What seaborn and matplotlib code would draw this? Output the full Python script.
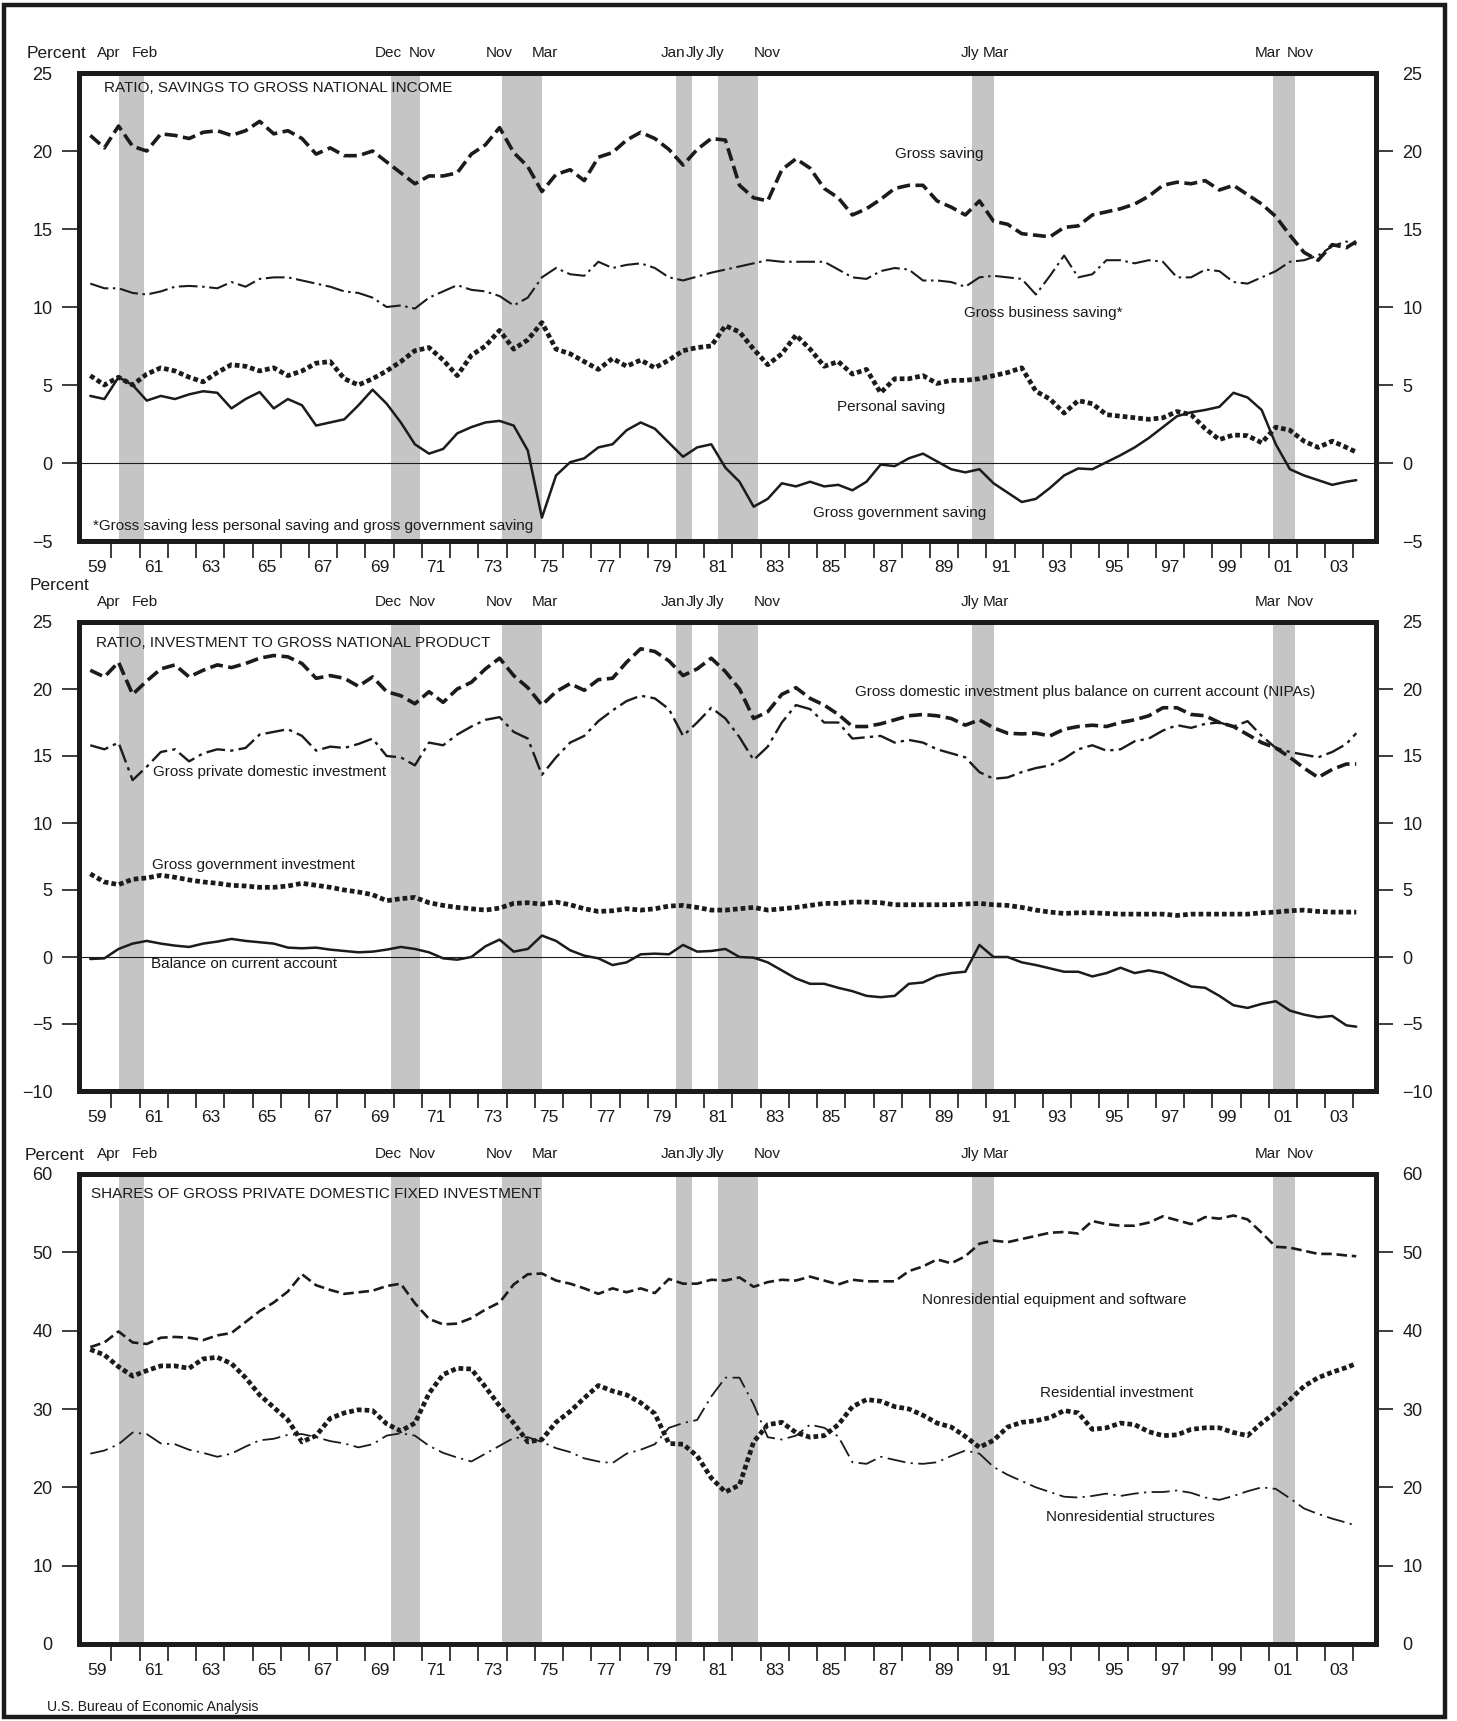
import numpy as np
import matplotlib
matplotlib.use("Agg")
import matplotlib.pyplot as plt
import matplotlib.transforms as mtransforms
from matplotlib.patches import Rectangle
import seaborn as sns

years = np.arange(1959, 2004)
t = list(np.ravel([[y + 0.25, y + 0.75] for y in years])) + [2004.1]

# Panel 1: ratio, savings to gross national income (percent)
gross_saving = [
    21.0, 20.2, 21.6, 20.3, 20.0, 21.1, 21.0, 20.8, 21.2, 21.3,
    21.0, 21.3, 21.9, 21.1, 21.3, 20.8, 19.8, 20.2, 19.7, 19.7,
    20.0, 19.3, 18.6, 17.9, 18.4, 18.4, 18.6, 19.8, 20.4, 21.5,
    19.9, 19.0, 17.4, 18.5, 18.8, 18.1, 19.6, 19.9, 20.7, 21.2,
    20.8, 20.1, 19.1, 20.1, 20.8, 20.7, 17.8, 17.0, 16.8, 18.8,
    19.5, 18.9, 17.6, 17.0, 15.9, 16.3, 16.9, 17.6, 17.8, 17.8,
    16.8, 16.4, 15.9, 16.8, 15.5, 15.3, 14.7, 14.6, 14.5, 15.1,
    15.2, 15.9, 16.1, 16.3, 16.6, 17.1, 17.8, 18.0, 17.9, 18.1,
    17.5, 17.8, 17.2, 16.6, 15.8, 14.6, 13.5, 13.0, 14.0, 13.8,
    14.2]
gross_business_saving = [
    11.5, 11.2, 11.2, 10.9, 10.8, 11.0, 11.3, 11.35, 11.3, 11.2,
    11.6, 11.3, 11.8, 11.9, 11.9, 11.7, 11.5, 11.3, 11.0, 10.9,
    10.6, 10.0, 10.1, 9.9, 10.6, 11.0, 11.4, 11.1, 11.0, 10.7,
    10.1, 10.6, 11.9, 12.5, 12.1, 12.0, 12.9, 12.5, 12.7, 12.8,
    12.5, 11.9, 11.7, 11.95, 12.2, 12.4, 12.6, 12.8, 13.0, 12.9,
    12.9, 12.9, 12.9, 12.4, 11.9, 11.8, 12.3, 12.5, 12.4, 11.7,
    11.7, 11.6, 11.3, 11.9, 12.0, 11.9, 11.8, 10.8, 12.0, 13.3,
    11.9, 12.1, 13.0, 13.0, 12.8, 13.0, 12.9, 11.9, 11.9, 12.4,
    12.3, 11.6, 11.5, 11.9, 12.3, 12.9, 13.0, 13.3, 13.9, 14.2,
    14.0]
personal_saving = [
    5.6, 5.0, 5.5, 5.0, 5.7, 6.1, 5.9, 5.5, 5.2, 5.8,
    6.3, 6.2, 5.9, 6.1, 5.6, 5.9, 6.4, 6.5, 5.4, 5.0,
    5.4, 5.9, 6.5, 7.2, 7.4, 6.6, 5.6, 6.9, 7.5, 8.5,
    7.3, 7.9, 9.0, 7.3, 7.0, 6.5, 6.0, 6.7, 6.2, 6.6,
    6.1, 6.6, 7.2, 7.4, 7.5, 8.8, 8.4, 7.3, 6.3, 7.0,
    8.2, 7.3, 6.2, 6.5, 5.7, 6.0, 4.5, 5.4, 5.4, 5.6,
    5.1, 5.3, 5.3, 5.4, 5.6, 5.8, 6.1, 4.6, 4.1, 3.2,
    4.0, 3.8, 3.1, 3.0, 2.9, 2.8, 2.9, 3.3, 3.1, 2.2,
    1.5, 1.8, 1.75, 1.3, 2.3, 2.1, 1.4, 1.0, 1.4, 1.0,
    0.7]
gross_government_saving = [
    4.3, 4.1, 5.5, 5.0, 4.0, 4.3, 4.1, 4.4, 4.6, 4.5,
    3.5, 4.1, 4.55, 3.5, 4.1, 3.7, 2.4, 2.6, 2.8, 3.7,
    4.7, 3.8, 2.6, 1.2, 0.6, 0.9, 1.9, 2.3, 2.6, 2.7,
    2.4, 0.8, -3.5, -0.8, 0.05, 0.3, 1.0, 1.2, 2.1, 2.6,
    2.2, 1.3, 0.4, 1.0, 1.2, -0.3, -1.2, -2.8, -2.3, -1.3,
    -1.5, -1.2, -1.5, -1.4, -1.75, -1.2, -0.1, -0.2, 0.3, 0.6,
    0.1, -0.4, -0.6, -0.4, -1.3, -1.9, -2.5, -2.3, -1.6, -0.8,
    -0.35, -0.4, 0.05, 0.5, 1.0, 1.6, 2.3, 3.0, 3.25, 3.4,
    3.6, 4.5, 4.2, 3.4, 1.2, -0.4, -0.8, -1.1, -1.4, -1.2,
    -1.1]

# Panel 2: ratio, investment to gross national product (percent)
gdi_plus_bca = [
    21.4, 20.9, 22.0, 19.6, 20.6, 21.5, 21.8, 20.9, 21.4, 21.8,
    21.6, 21.9, 22.3, 22.5, 22.4, 21.9, 20.8, 21.0, 20.8, 20.2,
    20.9, 19.8, 19.5, 18.9, 19.8, 19.0, 20.0, 20.5, 21.5, 22.3,
    21.0, 20.1, 18.8, 19.8, 20.4, 19.9, 20.7, 20.8, 22.0, 23.0,
    22.8, 22.1, 21.0, 21.5, 22.3, 21.3, 20.0, 17.8, 18.3, 19.6,
    20.1, 19.3, 18.8, 18.1, 17.2, 17.2, 17.4, 17.7, 18.0, 18.1,
    18.0, 17.8, 17.3, 17.7, 17.1, 16.7, 16.65, 16.7, 16.5, 17.0,
    17.2, 17.3, 17.2, 17.5, 17.7, 18.0, 18.6, 18.6, 18.1, 18.0,
    17.5, 17.2, 16.6, 16.0, 15.6, 14.9, 14.1, 13.4, 14.0, 14.4,
    14.4]
gross_private_domestic_inv = [
    15.8, 15.5, 16.0, 13.2, 14.2, 15.3, 15.5, 14.6, 15.2, 15.5,
    15.4, 15.6, 16.6, 16.8, 17.0, 16.5, 15.4, 15.7, 15.6, 15.9,
    16.3, 15.0, 14.9, 14.3, 16.0, 15.8, 16.6, 17.2, 17.7, 17.9,
    16.8, 16.3, 13.6, 14.9, 16.0, 16.5, 17.6, 18.4, 19.1, 19.5,
    19.3, 18.5, 16.5, 17.5, 18.6, 17.8, 16.4, 14.7, 15.7, 17.5,
    18.8, 18.5, 17.5, 17.5, 16.3, 16.4, 16.5, 16.0, 16.2, 16.0,
    15.5, 15.2, 14.9, 13.8, 13.3, 13.4, 13.8, 14.1, 14.3, 14.8,
    15.5, 15.8, 15.4, 15.5, 16.1, 16.3, 16.9, 17.3, 17.1, 17.4,
    17.5, 17.2, 17.6, 16.5, 15.6, 15.3, 15.1, 14.9, 15.3, 15.9,
    16.7]
gross_government_inv = [
    6.2, 5.6, 5.4, 5.8, 5.9, 6.1, 5.95, 5.75, 5.6, 5.5,
    5.35, 5.3, 5.2, 5.2, 5.3, 5.5, 5.35, 5.2, 5.0, 4.85,
    4.65, 4.2, 4.35, 4.45, 4.05, 3.85, 3.7, 3.6, 3.5, 3.65,
    4.0, 4.05, 3.95, 4.1, 3.9, 3.6, 3.4, 3.45, 3.6, 3.5,
    3.6, 3.8, 3.85, 3.7, 3.5, 3.5, 3.6, 3.7, 3.5, 3.6,
    3.7, 3.85, 4.0, 4.0, 4.1, 4.1, 4.05, 3.9, 3.9, 3.9,
    3.9, 3.9, 3.95, 4.0, 3.9, 3.85, 3.7, 3.5, 3.35, 3.25,
    3.3, 3.3, 3.25, 3.2, 3.2, 3.2, 3.2, 3.1, 3.2, 3.2,
    3.2, 3.2, 3.2, 3.3, 3.35, 3.45, 3.5, 3.4, 3.35, 3.35,
    3.35]
balance_current_account = [
    -0.15, -0.1, 0.6, 1.0, 1.2, 1.0, 0.85, 0.75, 1.0, 1.15,
    1.35, 1.2, 1.1, 1.0, 0.7, 0.65, 0.7, 0.55, 0.45, 0.35,
    0.4, 0.55, 0.75, 0.6, 0.35, -0.1, -0.2, 0.0, 0.8, 1.3,
    0.4, 0.6, 1.6, 1.2, 0.5, 0.1, -0.1, -0.6, -0.4, 0.2,
    0.25, 0.2, 0.9, 0.4, 0.45, 0.6, 0.0, -0.05, -0.4, -1.0,
    -1.6, -2.0, -2.0, -2.3, -2.55, -2.9, -3.0, -2.9, -2.0, -1.9,
    -1.4, -1.2, -1.1, 0.9, 0.0, 0.0, -0.4, -0.6, -0.85, -1.1,
    -1.1, -1.45, -1.2, -0.8, -1.2, -1.0, -1.2, -1.7, -2.2, -2.3,
    -2.9, -3.6, -3.8, -3.5, -3.3, -4.0, -4.3, -4.5, -4.4, -5.1,
    -5.2]

# Panel 3: shares of gross private domestic fixed investment (percent)
nonres_equipment = [
    37.9, 38.5, 39.9, 38.5, 38.3, 39.1, 39.2, 39.1, 38.8, 39.4,
    39.7, 41.1, 42.5, 43.6, 45.0, 47.2, 45.8, 45.2, 44.7, 44.9,
    45.1, 45.7, 46.0, 43.5, 41.5, 40.8, 40.9, 41.6, 42.7, 43.6,
    45.9, 47.2, 47.3, 46.4, 46.0, 45.4, 44.7, 45.4, 44.9, 45.4,
    44.8, 46.6, 46.0, 46.0, 46.5, 46.4, 46.8, 45.6, 46.2, 46.5,
    46.4, 46.9, 46.4, 45.9, 46.5, 46.3, 46.3, 46.3, 47.6, 48.2,
    49.1, 48.6, 49.5, 51.1, 51.5, 51.3, 51.7, 52.1, 52.5, 52.6,
    52.4, 54.0, 53.6, 53.4, 53.4, 53.8, 54.6, 54.1, 53.6, 54.5,
    54.3, 54.7, 54.2, 52.5, 50.7, 50.6, 50.2, 49.8, 49.8, 49.6,
    49.5]
residential_inv = [
    37.6, 36.9, 35.4, 34.2, 34.9, 35.5, 35.5, 35.2, 36.4, 36.6,
    35.8, 34.0, 31.8, 30.2, 28.6, 25.8, 26.6, 28.8, 29.5, 29.9,
    29.8, 28.1, 27.2, 28.2, 32.0, 34.4, 35.2, 35.1, 32.8, 30.4,
    28.2, 25.8, 26.1, 28.3, 29.7, 31.4, 33.0, 32.3, 31.8, 30.8,
    29.4, 25.6, 25.5, 24.0, 21.2, 19.4, 20.3, 25.8, 28.0, 28.3,
    27.0, 26.4, 26.6, 28.0, 30.3, 31.2, 31.0, 30.3, 30.0, 29.2,
    28.2, 27.7, 26.5, 25.1, 26.0, 27.7, 28.3, 28.5, 28.9, 29.8,
    29.5, 27.4, 27.6, 28.2, 28.0, 27.1, 26.6, 26.7, 27.4, 27.6,
    27.6, 27.0, 26.6, 28.2, 29.6, 31.2, 32.9, 34.0, 34.7, 35.3,
    35.8]
nonres_structures = [
    24.3, 24.7, 25.5, 27.0, 26.8, 25.6, 25.5, 24.8, 24.4, 23.9,
    24.3, 25.2, 26.0, 26.2, 26.7, 26.8, 26.4, 25.9, 25.6, 25.1,
    25.5, 26.6, 26.9, 26.6, 25.3, 24.4, 23.8, 23.3, 24.3, 25.3,
    26.3, 26.4, 25.8, 25.0, 24.5, 23.7, 23.3, 23.1, 24.3, 24.8,
    25.5, 27.6, 28.2, 28.6, 31.6, 34.0, 34.0, 30.6, 26.4, 26.1,
    26.6, 28.0, 27.6, 26.5, 23.2, 23.0, 23.9, 23.5, 23.1, 23.0,
    23.2, 24.0, 24.7, 24.3, 22.6, 21.6, 20.8, 20.0, 19.4, 18.8,
    18.7, 18.9, 19.2, 18.9, 19.2, 19.4, 19.4, 19.6, 19.3, 18.7,
    18.4, 18.9, 19.5, 20.0, 19.8, 18.6, 17.3, 16.6, 16.0, 15.5,
    15.1]

# Recessions (year, month) and their month labels
rec_start = [(1960, 4), (1969, 12), (1973, 11), (1980, 1), (1981, 7), (1990, 7), (2001, 3)]
rec_end = [(1961, 2), (1970, 11), (1975, 3), (1980, 7), (1982, 11), (1991, 3), (2001, 11)]
rec_start_lbl = ["Apr", "Dec", "Nov", "Jan", "Jly", "Jly", "Mar"]
rec_end_lbl = ["Feb", "Nov", "Mar", "Jly", "Nov", "Mar", "Nov"]

year_labels = ["%02d" % (y % 100) for y in range(1959, 2004, 2)]

# ---------------- style ----------------
sns.set_theme(style="white")
FONT = ["Liberation Sans", "DejaVu Sans"]
plt.rcParams["font.family"] = FONT
plt.rcParams["axes.unicode_minus"] = True

INK = "#1b1b1b"
SHADE = "#c5c5c5"

W, H = 1457, 1721
fig = plt.figure(figsize=(W / 100, H / 100), dpi=100)
fig.patch.set_facecolor("white")

AX_L, AX_R = 79, 1376
XMIN, XMAX = 1958.85, 2004.8
# how far (in years) each month label sits outside its band edge
START_OFF = [0.35, 0.1, 0.1, 0.1, 0.1, 0.1, 0.2]
END_OFF = [0.0, 0.1, 0.1, 0.1, 0.3, 0.1, 0.2]


def fxy(x, y):
    return x / W, 1 - y / H


def make_axes(top, bottom, ylim, yticks):
    ax = fig.add_axes([AX_L / W, 1 - bottom / H, (AX_R - AX_L) / W, (bottom - top) / H])
    ax.set_facecolor("white")
    ax.set_xlim(XMIN, XMAX)
    ax.set_ylim(*ylim)
    for sp in ax.spines.values():
        sp.set_linewidth(3.6)
        sp.set_color(INK)
        sp.set_visible(True)
    # x ticks at year boundaries, labels at mid-year of odd years
    ax.set_xticks(np.arange(1960, 2005))
    ax.set_xticklabels([])
    ax.set_xticks(np.arange(1959.5, 2004, 2), minor=True)
    ax.set_xticklabels(year_labels, minor=True, fontsize=12.5, color=INK)
    ax.tick_params(axis="x", which="major", direction="out", length=12, width=1.2,
                   color=INK, bottom=True, top=False)
    ax.tick_params(axis="x", which="minor", length=0, pad=14, bottom=True, top=False)
    ax.set_yticks(yticks)
    ax.set_yticklabels([str(v).replace("-", "\u2212") for v in yticks],
                       fontsize=13, color=INK)
    ax.tick_params(axis="y", direction="out", length=12, width=1.2, color=INK,
                   left=True, right=True, labelleft=True, labelright=True, pad=7)
    ticks = ax.yaxis.get_major_ticks()
    for i in (0, -1):
        ticks[i].tick1line.set_visible(False)
        ticks[i].tick2line.set_visible(False)
    ax.grid(False)
    # recession shading
    for (ys, ms), (ye, me) in zip(rec_start, rec_end):
        ax.axvspan(ys + (ms - 1) / 12, ye + me / 12, color=SHADE, lw=0, zorder=0)
    # month labels above the panel, centred just outside each band edge
    tr = mtransforms.blended_transform_factory(ax.transData, fig.transFigure)
    ylab = 1 - (top - 20) / H
    for (ys, ms), (ye, me), a, b, so, eo in zip(rec_start, rec_end, rec_start_lbl,
                                                 rec_end_lbl, START_OFF, END_OFF):
        ax.text(ys + (ms - 1) / 12 - so, ylab, a, transform=tr, ha="center", va="center",
                fontsize=11, color=INK)
        ax.text(ye + me / 12 + eo, ylab, b, transform=tr, ha="center", va="center",
                fontsize=11, color=INK)
    return ax


def draw(ax, y, lw, ls):
    sns.lineplot(x=t, y=y, ax=ax, color=INK, linewidth=lw, linestyle=ls,
                 errorbar=None, legend=False, zorder=3)


HEAVY_DASH = (2.6, (0, (3.6, 1.5)))
DASHDOT = (1.5, (0, (9, 2.2, 1.2, 2.2)))
HEAVY_DOT = (3.4, (0, (1.0, 0.65)))
SOLID = (1.8, "-")
MED_DASH = (1.9, (0, (4, 1.8)))
THIN_DASHDOT = (1.3, (0, (10, 3, 1.2, 3)))
LONG_DASHDOT = (1.7, (0, (8, 2.2, 1.4, 2.2)))


def ftext(x, y, s, size=11, ha="center"):
    fig.text(*fxy(x, y), s, ha=ha, va="center", fontsize=size, color=INK)


# ---------------- panel 1 ----------------
ax1 = make_axes(73, 541, (-5, 25), [-5, 0, 5, 10, 15, 20, 25])
ax1.axhline(0, color=INK, lw=0.8, zorder=1)
draw(ax1, gross_saving, *HEAVY_DASH)
draw(ax1, gross_business_saving, *DASHDOT)
draw(ax1, personal_saving, *HEAVY_DOT)
draw(ax1, gross_government_saving, *SOLID)
ax1.set_xlabel(""); ax1.set_ylabel("")
ftext(27, 53, "Percent", size=12.5, ha="left")
ftext(104, 88, "RATIO, SAVINGS TO GROSS NATIONAL INCOME", size=11, ha="left")
ftext(939, 154, "Gross saving")
ftext(1043, 313, "Gross business saving*")
ftext(891, 407, "Personal saving")
ftext(900, 513, "Gross government saving")
ftext(93, 526, "*Gross saving less personal saving and gross government saving", ha="left")

# ---------------- panel 2 ----------------
ax2 = make_axes(622, 1091, (-10, 25), [-10, -5, 0, 5, 10, 15, 20, 25])
ax2.axhline(0, color=INK, lw=0.8, zorder=1)
draw(ax2, gdi_plus_bca, *HEAVY_DASH)
draw(ax2, gross_private_domestic_inv, *LONG_DASHDOT)
draw(ax2, gross_government_inv, *HEAVY_DOT)
draw(ax2, balance_current_account, *SOLID)
ax2.set_xlabel(""); ax2.set_ylabel("")
ftext(30, 585, "Percent", size=12.5, ha="left")
ftext(96, 643, "RATIO, INVESTMENT TO GROSS NATIONAL PRODUCT", size=11, ha="left")
ftext(1085, 692, "Gross domestic investment plus balance on current account (NIPAs)")
ftext(270, 772, "Gross private domestic investment")
ftext(253, 865, "Gross government investment")
ftext(244, 964, "Balance on current account")

# ---------------- panel 3 ----------------
ax3 = make_axes(1174, 1644, (0, 60), [0, 10, 20, 30, 40, 50, 60])
draw(ax3, nonres_equipment, *MED_DASH)
draw(ax3, residential_inv, *HEAVY_DOT)
draw(ax3, nonres_structures, *THIN_DASHDOT)
ax3.set_xlabel(""); ax3.set_ylabel("")
ftext(25, 1156, "Percent", size=12.5, ha="left")
ftext(91, 1194, "SHARES OF GROSS PRIVATE DOMESTIC FIXED INVESTMENT", size=11, ha="left")
ftext(1054, 1300, "Nonresidential equipment and software")
ftext(1117, 1393, "Residential investment")
ftext(1130, 1517, "Nonresidential structures")
ftext(47, 1707, "U.S. Bureau of Economic Analysis", size=10, ha="left")

# outer frame
fig.add_artist(Rectangle((4 / W, 4 / H), (1445 - 4) / W, (1717 - 5) / H,
                         transform=fig.transFigure, fill=False, lw=3.2, edgecolor=INK))

fig.savefig("out.png", dpi=100, facecolor="white")
